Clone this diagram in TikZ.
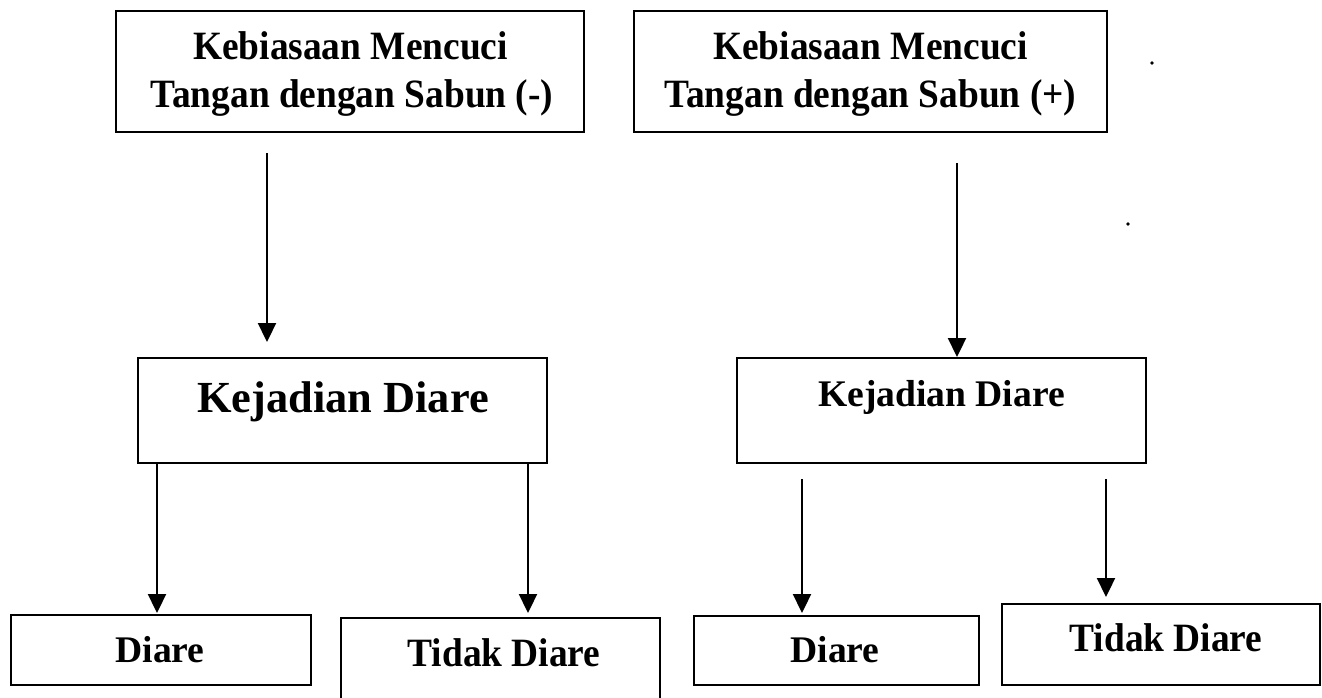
\documentclass[tikz,border=0pt]{standalone}
\usepackage{fontspec}
\setmainfont{Liberation Serif}
\newfontfamily\condserif[FakeStretch=0.93]{Liberation Serif}
\usetikzlibrary{arrows.meta}
\tikzset{
  boxnode/.style={draw=black, line width=2.6pt, inner sep=0pt, outer sep=0pt, rectangle},
  lbl/.style={anchor=base, inner sep=0pt, outer sep=0pt, font=\bfseries\fontsize{37.6}{45}\selectfont},
  lblcond/.style={anchor=base, inner sep=0pt, outer sep=0pt, font=\condserif\bfseries\fontsize{40.2}{48}\selectfont},
  lblbig/.style={anchor=base, inner sep=0pt, outer sep=0pt, font=\bfseries\fontsize{44.4}{52}\selectfont},
  arr/.style={line width=2.3pt, -{Triangle[width=18pt,length=19pt]}},
}
\begin{document}
\begin{tikzpicture}[x=1pt,y=-1pt]
\useasboundingbox (0,0) rectangle (1322,698);
\clip (0,0) rectangle (1322,698);
\fill[white] (0,0) rectangle (1322,698);

% boxes
\node[boxnode, minimum width=468pt, minimum height=121pt] (b1) at (350,71.5) {};
\node[boxnode, minimum width=473pt, minimum height=121pt] (b2) at (870.5,71.5) {};
\node[boxnode, minimum width=409pt, minimum height=105pt] (k1) at (342.5,410.5) {};
\node[boxnode, minimum width=409pt, minimum height=105pt] (k2) at (941.5,410.5) {};
\node[boxnode, minimum width=300pt, minimum height=70pt] (d1) at (161,650) {};
\node[boxnode, minimum width=319pt, minimum height=100pt] (t1) at (500.5,668) {};
\node[boxnode, minimum width=285pt, minimum height=69pt] (d2) at (836.5,650.5) {};
\node[boxnode, minimum width=318pt, minimum height=81pt] (t2) at (1161,644.5) {};

% texts
\node[lblcond] (b1a) at (350.5,60) {Kebiasaan Mencuci};
\node[lblcond] (b1b) at (352,108) {Tangan dengan Sabun (-)};
\node[lblcond] (b2a) at (870.5,60) {Kebiasaan Mencuci};
\node[lblcond] (b2b) at (870.5,108) {Tangan dengan Sabun (+)};
\node[lblbig] (k1t) at (343,412) {Kejadian Diare};
\node[lbl] (k2t) at (941.5,406.5) {Kejadian Diare};
\node[lbl] (d1t) at (160,662) {Diare};
\node[lblcond] (t1t) at (504,666) {Tidak Diare};
\node[lbl] (d2t) at (835,662) {Diare};
\node[lblcond] (t2t) at (1166,651) {Tidak Diare};

% arrow columns
\coordinate (c1) at (267,0);
\coordinate (c2) at (957,0);
\coordinate (c3) at (157,0);
\coordinate (c4) at (528,0);
\coordinate (c5) at (802,0);
\coordinate (c6) at (1106,0);

\draw[arr, shorten <=21pt, shorten >=16pt] (b1.south -| c1) -- (k1.north -| c1);
\draw[arr, shorten <=31pt, shorten >=1pt] (b2.south -| c2) -- (k2.north -| c2);
\draw[arr, shorten >=2pt] (k1.south -| c3) -- (d1.north -| c3);
\draw[arr, shorten >=5pt] (k1.south -| c4) -- (t1.north -| c4);
\draw[arr, shorten <=16pt, shorten >=3pt] (k2.south -| c5) -- (d2.north -| c5);
\draw[arr, shorten <=16pt, shorten >=7pt] (k2.south -| c6) -- (t2.north -| c6);

% scan specks
\fill (1152,63) circle (1.8pt);
\fill (1128,224) circle (1.8pt);
\end{tikzpicture}
\end{document}
